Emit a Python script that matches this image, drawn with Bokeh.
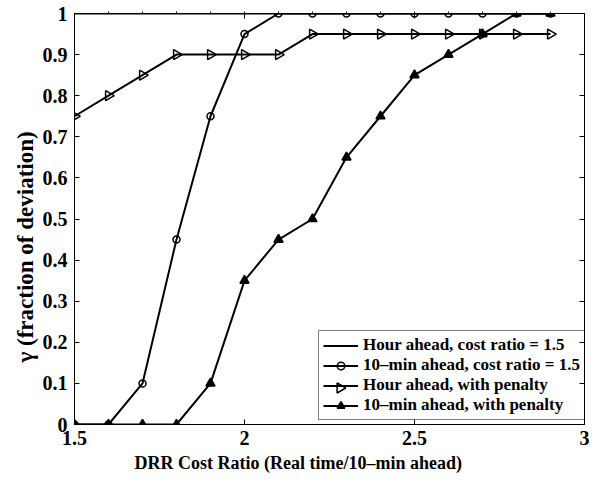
import numpy as np
from bokeh.plotting import figure
from bokeh.models import (Legend, LegendItem, LinearAxis, FixedTicker, Range1d, Title)
from bokeh.embed import file_html
from bokeh.resources import INLINE

x_vals = [1.5, 1.6, 1.7, 1.8, 1.9, 2.0, 2.1, 2.2, 2.3, 2.4, 2.5, 2.6, 2.7, 2.8, 2.9]
hour_ratio15 = [1, 1, 1, 1, 1, 1, 1, 1, 1, 1, 1, 1, 1, 1, 1]
tenmin_ratio15 = [0, 0, 0.1, 0.45, 0.75, 0.95, 1, 1, 1, 1, 1, 1, 1, 1, 1]
hour_penalty = [0.75, 0.8, 0.85, 0.9, 0.9, 0.9, 0.9, 0.95, 0.95, 0.95, 0.95, 0.95, 0.95, 0.95, 0.95]
tenmin_penalty = [0, 0, 0, 0, 0.1, 0.35, 0.45, 0.5, 0.65, 0.75, 0.85, 0.9, 0.95, 1, 1]

x_ticks = [1.5, 2.0, 2.5, 3.0]
x_tick_labels = ["1.5", "2", "2.5", "3"]
y_ticks = [0, 0.1, 0.2, 0.3, 0.4, 0.5, 0.6, 0.7, 0.8, 0.9, 1.0]
y_tick_labels = ["0", "0.1", "0.2", "0.3", "0.4", "0.5", "0.6", "0.7", "0.8", "0.9", "1"]
x_title = "DRR Cost Ratio (Real time/10\u2013min ahead)"
y_title = "\u03b3 (fraction of deviation)"

FONT = "Liberation Serif"

# layout (screen px)
W, H = 593, 480
FL, FR, FT, FB = 74, 584, 13, 424
X0, X1, Y0, Y1 = 1.5, 3.0, 0.0, 1.0

def dx(sx):
    return X0 + (sx - FL) / (FR - FL) * (X1 - X0)

def dy(sy):
    return Y0 + (FB - sy) / (FB - FT) * (Y1 - Y0)

p = figure(width=W, height=H, output_backend="svg", toolbar_location=None,
           x_range=Range1d(X0, X1), y_range=Range1d(Y0, Y1),
           min_border_left=FL, min_border_right=W - FR, min_border_top=FT,
           min_border_bottom=H - FB)
p.grid.visible = False
p.outline_line_color = "black"
p.outline_line_width = 1
p.background_fill_color = "white"
p.border_fill_color = "white"

def style_axis(ax, ticks, labels, show_labels=True, minor=None):
    ax.ticker = FixedTicker(ticks=ticks, minor_ticks=minor or [])
    ax.major_label_overrides = {t: l for t, l in zip(ticks, labels)}
    ax.major_tick_in = 5
    ax.major_tick_out = 0
    ax.minor_tick_in = 0
    ax.minor_tick_out = 2 if minor else 0
    ax.axis_line_color = "black"
    ax.major_tick_line_color = "black"
    ax.minor_tick_line_color = "black"
    ax.major_label_text_font = FONT
    ax.major_label_text_font_style = "bold"
    ax.major_label_text_font_size = "20px"
    ax.major_label_text_color = "black"
    if not show_labels:
        ax.major_label_text_alpha = 0
        ax.major_label_text_font_size = "1px"

style_axis(p.xaxis[0], x_ticks, x_tick_labels)
style_axis(p.yaxis[0], y_ticks, y_tick_labels)
p.xaxis[0].major_label_standoff = 6
p.yaxis[0].major_label_standoff = 7

ax_r = LinearAxis()
style_axis(ax_r, y_ticks, y_tick_labels, show_labels=False)
ax_r.major_label_standoff = 0
p.add_layout(ax_r, "right")
ax_t = LinearAxis()
style_axis(ax_t, x_ticks, x_tick_labels, show_labels=False,
           minor=[round(v, 1) for v in np.arange(1.6, 3.0, 0.1)])
ax_t.major_label_standoff = 0
p.add_layout(ax_t, "above")

# axis titles (slightly off-centre, as in the reference)
p.add_layout(Title(text=x_title, align="left", offset=60, standoff=7,
                   text_font=FONT, text_font_style="bold", text_font_size="18px",
                   text_color="black"), "below")
p.add_layout(Title(text=y_title, align="left", offset=62, standoff=4,
                   text_font=FONT, text_font_style="bold", text_font_size="23px",
                   text_color="black"), "left")

LW = 2
r1 = p.line(x_vals, hour_ratio15, line_color="black", line_width=LW)

r2l = p.line(x_vals, tenmin_ratio15, line_color="black", line_width=LW)
r2m = p.scatter(x_vals, tenmin_ratio15, marker="circle", size=7, line_color="black",
                line_width=1.5, fill_alpha=0)

r3l = p.line(x_vals, hour_penalty, line_color="black", line_width=LW)
r3m = p.scatter(x_vals, hour_penalty, marker="triangle", angle=-np.pi / 2, size=10,
                line_color="black", line_width=1.5, fill_alpha=0)

r4l = p.line(x_vals, tenmin_penalty, line_color="black", line_width=LW)
r4m = p.scatter(x_vals, tenmin_penalty, marker="triangle", size=9, line_color="black",
                line_width=1.5, fill_color="black")

# legend geometry (screen px)
LEG_LEFT, LEG_BOTTOM = 318, 420
PAD, GW, ROW = 4, 35, 19
legend = Legend(items=[
    LegendItem(label="Hour ahead, cost ratio = 1.5", renderers=[r1]),
    LegendItem(label="10\u2013min ahead, cost ratio = 1.5", renderers=[r2l, r2m]),
    LegendItem(label="Hour ahead, with penalty", renderers=[r3l]),
    LegendItem(label="10\u2013min ahead, with penalty", renderers=[r4l, r4m]),
], location=(LEG_LEFT - FL, FB - LEG_BOTTOM))
legend.margin = 0
legend.padding = PAD
legend.spacing = 0
legend.glyph_width = GW
legend.glyph_height = ROW
legend.label_height = ROW
legend.label_standoff = 5
legend.label_text_font = FONT
legend.label_text_font_style = "bold"
legend.label_text_font_size = "17px"
legend.label_text_color = "black"
legend.label_text_baseline = "middle"
legend.border_line_color = "black"
legend.border_line_width = 1
legend.background_fill_alpha = 0
p.add_layout(legend, "center")

# right-pointing marker for the 3rd legend entry (Bokeh legends do not rotate markers)
leg_top = LEG_BOTTOM - (2 * PAD + 4 * ROW)
sx = LEG_LEFT + PAD + GW / 2
sy = leg_top + PAD + 2 * ROW + ROW / 2
p.scatter([dx(sx)], [dy(sy)], marker="triangle", angle=-np.pi / 2, size=10,
          line_color="black", line_width=1.5, fill_color="white")

open("out.html", "w").write(file_html(p, INLINE))
